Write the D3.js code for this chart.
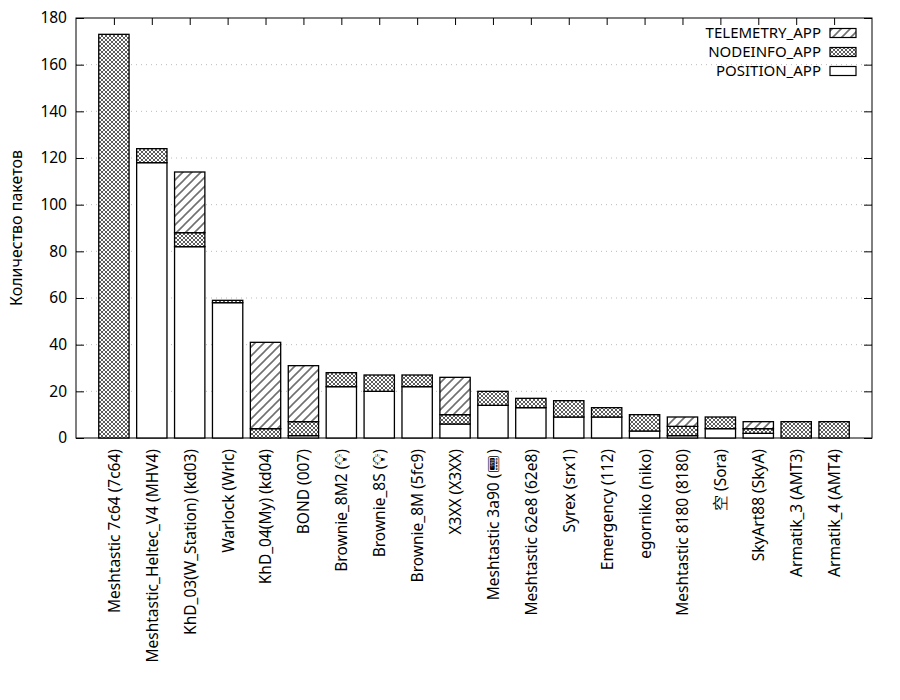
<!DOCTYPE html>
<html>
<head>
<meta charset="utf-8">
<script src="https://cdn.jsdelivr.net/npm/d3@7"></script>
<style>
  body { margin: 0; background: #fff; }
  svg text { font-family: "Noto Sans", "DejaVu Sans", sans-serif; }
</style>
</head>
<body>
<svg id="chart" width="900" height="700"></svg>
<script>
// Узлы (ось X)
const nodes = [
    'Meshtastic 7c64 (7c64)', 'Meshtastic_Heltec_V4 (MHV4)', 'KhD_03(W_Station) (kd03)',
    'Warlock (Wrlc)', 'KhD_04(My) (kd04)', 'BOND (007)', 'Brownie_8M2 (💡\uFE0E)',
    'Brownie_8S (💡\uFE0E)', 'Brownie_8M (5fc9)', 'X3XX (X3XX)', 'Meshtastic 3a90 (📟\uFE0E)',
    'Meshtastic 62e8 (62e8)', 'Syrex (srx1)', 'Emergency (112)', 'egorniko (niko)',
    'Meshtastic 8180 (8180)', '空 (Sora)', 'SkyArt88 (SkyA)', 'Armatik_3 (AMT3)', 'Armatik_4 (AMT4)'
];

// Пакеты по типам
const positionApp  = [0, 118, 82, 58, 0, 1, 22, 20, 22, 6, 14, 13, 9, 9, 3, 1, 4, 2, 0, 0];
const nodeinfoApp  = [173, 6, 6, 1, 4, 6, 6, 7, 5, 4, 6, 4, 7, 4, 7, 4, 5, 2, 7, 7];
const telemetryApp = [0, 0, 26, 0, 37, 24, 0, 0, 0, 16, 0, 0, 0, 0, 0, 4, 0, 3, 0, 0];

const yTicks = [0, 20, 40, 60, 80, 100, 120, 140, 160, 180];
const seriesNames = ['POSITION_APP', 'NODEINFO_APP', 'TELEMETRY_APP'];

const table = nodes.map((n, i) => ({
    idx: i,
    POSITION_APP: positionApp[i],
    NODEINFO_APP: nodeinfoApp[i],
    TELEMETRY_APP: telemetryApp[i]
}));

const margin = { top: 18, right: 28, bottom: 262, left: 76 };
const fullWidth = 900;
const fullHeight = 700;
const width = fullWidth - margin.left - margin.right;
const height = fullHeight - margin.top - margin.bottom;
const fontStack = '"Noto Sans", "DejaVu Sans", sans-serif';

const root = d3.select("#chart");

// Штриховки
const defs = root.append("defs");
const cross = defs.append("pattern")
    .attr("id", "pat-node")
    .attr("patternUnits", "userSpaceOnUse")
    .attr("width", 4).attr("height", 4);
cross.append("rect").attr("width", 4).attr("height", 4).attr("fill", "#fff");
cross.append("path")
    .attr("d", "M0,0 L4,4 M4,0 L0,4")
    .attr("stroke", "#333").attr("stroke-width", 0.8);

const diag = defs.append("pattern")
    .attr("id", "pat-tele")
    .attr("patternUnits", "userSpaceOnUse")
    .attr("width", 9).attr("height", 9);
diag.append("rect").attr("width", 9).attr("height", 9).attr("fill", "#fff");
diag.append("path")
    .attr("d", "M0,9 L9,0 M-2,2 L2,-2 M7,11 L11,7")
    .attr("stroke", "#707070").attr("stroke-width", 1.6);

const fills = {
    POSITION_APP: "#fff",
    NODEINFO_APP: "url(#pat-node)",
    TELEMETRY_APP: "url(#pat-tele)"
};

const svg = root.append("g")
    .attr("transform", `translate(${margin.left},${margin.top})`);

const x = d3.scaleLinear()
    .domain([-1, 20])
    .range([0, width]);

const y = d3.scaleLinear()
    .domain([0, 180])
    .range([height, 0]);

const barW = (x(1) - x(0)) * 0.8;

// Сетка
svg.append("g")
    .selectAll("line")
    .data(yTicks.filter(t => t > 0 && t < 180))
    .enter()
    .append("line")
    .attr("x1", 0).attr("x2", width)
    .attr("y1", d => y(d)).attr("y2", d => y(d))
    .attr("stroke", "#bbb")
    .attr("stroke-width", 1)
    .attr("stroke-dasharray", "1,4");

// Оси
svg.append("g")
    .attr("class", "y-axis")
    .call(d3.axisLeft(y).tickValues(yTicks).tickSizeInner(-8).tickSizeOuter(0).tickPadding(9));

svg.append("g")
    .attr("transform", `translate(${width},0)`)
    .call(d3.axisRight(y).tickValues(yTicks).tickSizeInner(-8).tickSizeOuter(0).tickFormat(""));

svg.append("g")
    .call(d3.axisTop(x).tickValues(d3.range(nodes.length)).tickSizeInner(-7).tickSizeOuter(0).tickFormat(""));

const xAxis = svg.append("g")
    .attr("class", "x-axis")
    .attr("transform", `translate(0,${height})`)
    .call(d3.axisBottom(x).tickValues(d3.range(nodes.length)).tickSizeInner(-7).tickSizeOuter(0)
        .tickFormat(i => nodes[i]));

xAxis.selectAll("text")
    .style("text-anchor", "end")
    .attr("dy", "0.35em")
    .attr("transform", "translate(0,11) rotate(-90)")
    .attr("x", 0)
    .attr("y", 0);

// Рамка
svg.append("rect")
    .attr("width", width)
    .attr("height", height)
    .attr("fill", "none")
    .attr("stroke", "#000")
    .attr("stroke-width", 1);

svg.selectAll(".domain").remove();
svg.selectAll(".tick line").attr("stroke", "#000");
svg.selectAll(".tick text")
    .style("font-family", fontStack)
    .style("font-size", "15.5px")
    .style("fill", "#000");

// Столбцы
const stack = d3.stack().keys(seriesNames)(table);

svg.append("g")
    .selectAll("g")
    .data(stack)
    .enter()
    .append("g")
    .attr("fill", d => fills[d.key])
    .selectAll("rect")
    .data(d => d.filter(s => s[1] - s[0] > 0))
    .enter()
    .append("rect")
    .attr("x", d => x(d.data.idx) - barW / 2)
    .attr("y", d => y(d[1]))
    .attr("width", barW)
    .attr("height", d => y(d[0]) - y(d[1]))
    .attr("stroke", "#000")
    .attr("stroke-width", 1.3);

// Подпись оси Y
root.append("text")
    .attr("transform", `translate(22,${margin.top + height / 2}) rotate(-90)`)
    .attr("text-anchor", "middle")
    .style("font-family", fontStack)
    .style("font-size", "16px")
    .text("Количество пакетов");

// Легенда
const legendOrder = ['TELEMETRY_APP', 'NODEINFO_APP', 'POSITION_APP'];
const legend = root.append("g")
    .selectAll("g")
    .data(legendOrder)
    .enter()
    .append("g")
    .attr("transform", (d, i) => `translate(0,${33 + i * 19})`);

legend.append("text")
    .attr("x", 821)
    .attr("y", 0)
    .attr("dy", "0.35em")
    .attr("text-anchor", "end")
    .style("font-family", fontStack)
    .style("font-size", "15px")
    .text(d => d);

legend.append("rect")
    .attr("x", 830)
    .attr("y", -4.5)
    .attr("width", 26)
    .attr("height", 9)
    .attr("fill", d => fills[d])
    .attr("stroke", "#000")
    .attr("stroke-width", 1.2);
</script>
</body>
</html>
